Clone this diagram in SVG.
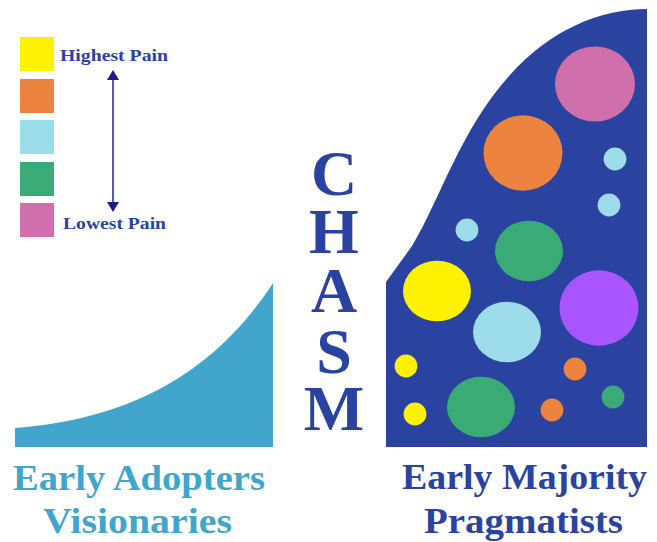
<svg xmlns="http://www.w3.org/2000/svg" width="657" height="542" viewBox="0 0 657 542">
<style>
.t{font-family:"Liberation Serif","Times New Roman",serif;font-weight:bold}
.navy{fill:#2B43A0}
.teal{fill:#41A5CC}
.y{fill:#FFF200}.o{fill:#EC833E}.lb{fill:#9DDCEA}.g{fill:#3AAA76}.p{fill:#CF70AC}.pu{fill:#A855FF}
</style>
<rect width="657" height="542" fill="#ffffff"/>
<g id="legend">
<rect class="y" x="20" y="37" width="34" height="34"/>
<rect class="o" x="20" y="79" width="34" height="34"/>
<rect class="lb" x="20" y="120" width="34" height="34"/>
<rect class="g" x="20" y="162" width="34" height="34"/>
<rect class="p" x="20" y="203" width="34" height="34"/>
<text class="t navy" x="60" y="61" font-size="17" textLength="108" lengthAdjust="spacingAndGlyphs">Highest Pain</text>
<text class="t navy" x="63" y="229" font-size="17" textLength="103" lengthAdjust="spacingAndGlyphs">Lowest Pain</text>
</g>
<g id="connectors">
<line x1="113" y1="78" x2="113" y2="204" stroke="#5B55B5" stroke-width="2"/>
<polygon points="113,70 107,80 119,80" fill="#1E1A85"/>
<polygon points="113,212 107,202 119,202" fill="#1E1A85"/>
</g>
<g id="early-adopters">
<path class="teal" d="M15 447 L15 428 C120 420 210 380 273 283 L273 447 Z"/>
<text class="t teal" x="13" y="490" font-size="36" textLength="252" lengthAdjust="spacingAndGlyphs">Early Adopters</text>
<text class="t teal" x="43" y="533" font-size="36" textLength="189" lengthAdjust="spacingAndGlyphs">Visionaries</text>
</g>
<g id="chasm">
<text class="t navy" font-size="64" text-anchor="middle"><tspan x="334" y="195">C</tspan><tspan x="334" y="253">H</tspan><tspan x="334" y="312">A</tspan><tspan x="334" y="373">S</tspan><tspan x="334" y="430">M</tspan></text>
</g>
<g id="early-majority">
<path class="navy" d="M386 447 L386 282 L412 246 C440 200 460 130 510 75 C550 30 600 9 647 9 L647 447 Z"/>
<ellipse class="p" cx="595" cy="84" rx="40" ry="37.5"/>
<ellipse class="o" cx="523" cy="153" rx="39.5" ry="37.7"/>
<circle class="lb" cx="615" cy="159" r="11.4"/>
<circle class="lb" cx="609" cy="205" r="11.4"/>
<circle class="lb" cx="467" cy="230" r="11.4"/>
<ellipse class="g" cx="529" cy="251" rx="34" ry="30.3"/>
<ellipse class="y" cx="437" cy="291" rx="34" ry="30.3"/>
<ellipse class="lb" cx="507" cy="332" rx="34" ry="30.2"/>
<ellipse class="pu" cx="599" cy="308" rx="39.5" ry="37.7"/>
<circle class="y" cx="406" cy="366" r="11.4"/>
<circle class="o" cx="575" cy="369" r="11.4"/>
<ellipse class="g" cx="481" cy="407" rx="34" ry="30.2"/>
<circle class="o" cx="552" cy="410" r="11.4"/>
<circle class="g" cx="613" cy="397" r="11.4"/>
<circle class="y" cx="415" cy="414" r="11.4"/>
<text class="t navy" x="402" y="489" font-size="36" textLength="245" lengthAdjust="spacingAndGlyphs">Early Majority</text>
<text class="t navy" x="424" y="533" font-size="36" textLength="199" lengthAdjust="spacingAndGlyphs">Pragmatists</text>
</g>
</svg>
